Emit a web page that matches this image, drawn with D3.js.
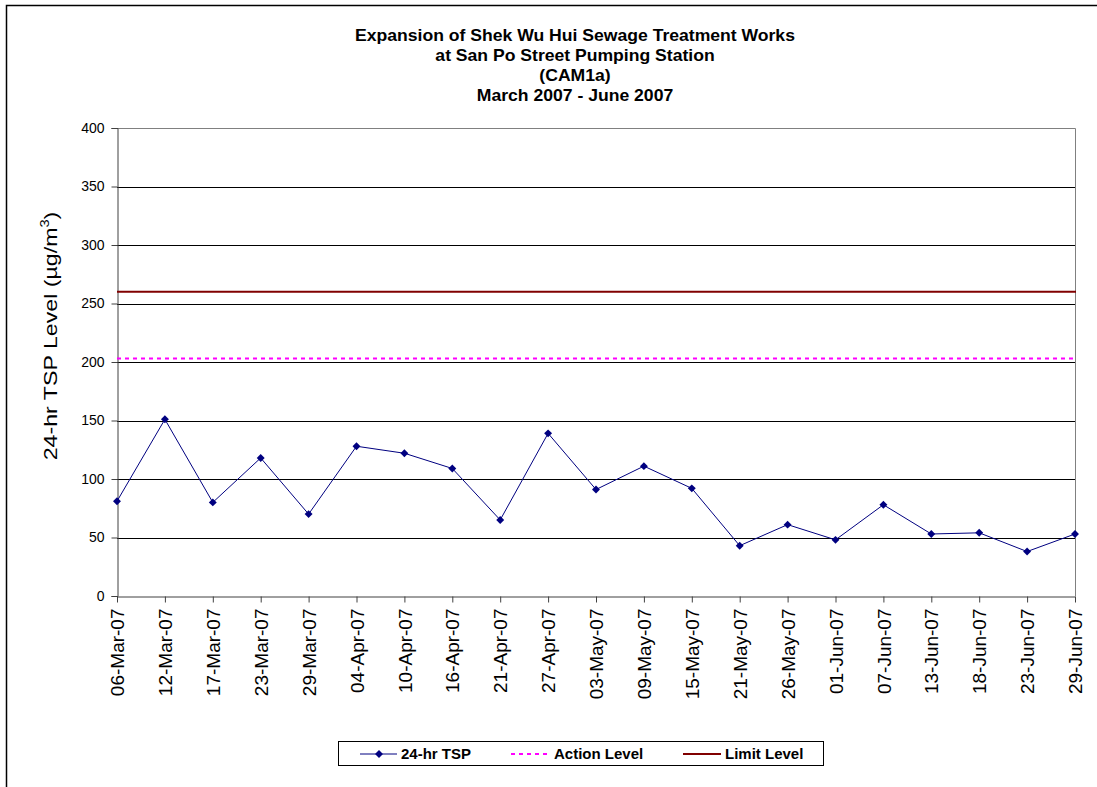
<!DOCTYPE html>
<html>
<head>
<meta charset="utf-8">
<script src="https://cdn.jsdelivr.net/npm/d3@7"></script>
<style>
  body { margin: 0; background: #fff; }
  text { font-family: Arial, "Liberation Sans", sans-serif; }
</style>
</head>
<body>
<div id="chart"></div>
<script>
const dates = ["06-Mar-07", "12-Mar-07", "17-Mar-07", "23-Mar-07", "29-Mar-07", "04-Apr-07", "10-Apr-07",
    "16-Apr-07", "21-Apr-07", "27-Apr-07", "03-May-07", "09-May-07", "15-May-07", "21-May-07",
    "26-May-07", "01-Jun-07", "07-Jun-07", "13-Jun-07", "18-Jun-07", "23-Jun-07", "29-Jun-07"];
const tsp = [81, 151, 80, 118, 70, 128, 122, 109, 65, 139, 91, 111, 92, 43, 61, 48, 78, 53, 54, 38, 53];
const actionLevel = 203;
const limitLevel = 260;
const yTicks = [0, 50, 100, 150, 200, 250, 300, 350, 400];
const titleLines = ["Expansion of Shek Wu Hui Sewage Treatment Works",
    "at San Po Street Pumping Station", "(CAM1a)", "March 2007 - June 2007"];

const width = 1097;
const height = 787;
const plotLeft = 117, plotRight = 1075, plotTop = 128, plotBottom = 596;

const svg = d3.select('#chart').append('svg')
    .attr('width', width)
    .attr('height', height);

// outer frame (only top and left are visible)
svg.append('path')
    .attr('d', `M6.5,${height + 2} L6.5,5.5 L${width + 2},5.5`)
    .attr('fill', 'none')
    .attr('stroke', '#000')
    .attr('stroke-width', 1.5);

const x = d3.scalePoint().domain(dates).range([plotLeft, plotRight]);
const y = d3.scaleLinear().domain([0, 400]).range([plotBottom, plotTop]);

// title
svg.append('g').selectAll('text')
    .data(titleLines)
    .enter().append('text')
    .attr('transform', (_, i) => `translate(575,${41 + i * 20}) scale(1.1,1)`)
    .attr('text-anchor', 'middle')
    .attr('font-size', 16)
    .attr('font-weight', 'bold')
    .text(d => d);

// gridlines
svg.append('g').selectAll('line')
    .data(yTicks.filter(d => d > 0 && d < 400))
    .enter().append('line')
    .attr('x1', plotLeft).attr('x2', plotRight)
    .attr('y1', d => Math.round(y(d)) + 0.5).attr('y2', d => Math.round(y(d)) + 0.5)
    .attr('stroke', '#000')
    .attr('stroke-width', 1);

// plot border top/right
svg.append('path')
    .attr('d', `M${plotLeft},${plotTop + 0.5} L${plotRight + 0.5},${plotTop + 0.5} L${plotRight + 0.5},${plotBottom}`)
    .attr('fill', 'none')
    .attr('stroke', '#808080');

// y axis
const yAxis = svg.append('g')
    .attr('transform', `translate(${plotLeft + 0.5},0)`)
    .call(d3.axisLeft(y).tickValues(yTicks).tickSize(6).tickPadding(7));
yAxis.select('.domain').attr('stroke', '#404040');
yAxis.selectAll('.tick line').attr('stroke', '#404040');
yAxis.selectAll('text').attr('font-size', 14).attr('fill', '#000')
    .attr('font-family', 'Arial, "Liberation Sans", sans-serif');

// x axis
const xAxis = svg.append('g')
    .attr('transform', `translate(0,${plotBottom + 0.5})`)
    .call(d3.axisBottom(x).tickSize(6).tickPadding(5).tickSizeOuter(0));
xAxis.select('.domain').attr('stroke', '#404040');
xAxis.selectAll('.tick line').attr('stroke', '#404040');
xAxis.selectAll('text')
    .attr('font-size', 19).attr('fill', '#000')
    .attr('font-family', 'Arial, "Liberation Sans", sans-serif')
    .attr('transform', 'rotate(-90)')
    .attr('text-anchor', 'end')
    .attr('x', -12)
    .attr('y', 0)
    .attr('dy', '0.35em');

// y label
const yLabel = svg.append('text')
    .attr('transform', 'translate(57,336) rotate(-90) scale(1.22,1)')
    .attr('text-anchor', 'middle')
    .attr('font-size', 19);
yLabel.append('tspan').text('24-hr TSP Level  (\u00b5g/m');
yLabel.append('tspan').attr('font-size', 12).attr('dy', -8).text('3');
yLabel.append('tspan').attr('dy', 8).text(')');

// limit & action levels
svg.append('line')
    .attr('x1', plotLeft).attr('x2', plotRight + 1)
    .attr('y1', y(limitLevel)).attr('y2', y(limitLevel))
    .attr('stroke', '#800000').attr('stroke-width', 2);
svg.append('line')
    .attr('x1', plotLeft).attr('x2', plotRight + 1)
    .attr('y1', y(actionLevel)).attr('y2', y(actionLevel))
    .attr('stroke', '#ff00ff').attr('stroke-width', 2)
    .attr('stroke-dasharray', '4,4');

// TSP series
const line = d3.line().x((d, i) => x(dates[i])).y(d => y(d));
svg.append('path')
    .datum(tsp)
    .attr('d', line)
    .attr('fill', 'none')
    .attr('stroke', '#000080')
    .attr('stroke-width', 1);

const diamond = d3.symbol().type(d3.symbolDiamond2).size(40);
svg.append('g').selectAll('path')
    .data(tsp)
    .enter().append('path')
    .attr('d', diamond)
    .attr('transform', (d, i) => `translate(${x(dates[i])},${y(d)})`)
    .attr('fill', '#000080');

// legend
const legend = svg.append('g');
legend.append('rect')
    .attr('x', 338.5).attr('y', 741.5)
    .attr('width', 485).attr('height', 24)
    .attr('fill', '#fff').attr('stroke', '#000');

legend.append('line')
    .attr('x1', 360).attr('x2', 397).attr('y1', 754).attr('y2', 754)
    .attr('stroke', '#000080').attr('stroke-width', 1);
legend.append('path')
    .attr('d', diamond)
    .attr('transform', 'translate(379,754)')
    .attr('fill', '#000080');
legend.append('line')
    .attr('x1', 511).attr('x2', 550).attr('y1', 754).attr('y2', 754)
    .attr('stroke', '#ff00ff').attr('stroke-width', 2)
    .attr('stroke-dasharray', '4,4');
legend.append('line')
    .attr('x1', 683).attr('x2', 721).attr('y1', 754).attr('y2', 754)
    .attr('stroke', '#800000').attr('stroke-width', 2);

const legendText = [["24-hr TSP", 401], ["Action Level", 554], ["Limit Level", 725]];
legend.selectAll('text.lab')
    .data(legendText)
    .enter().append('text')
    .attr('class', 'lab')
    .attr('x', d => d[1]).attr('y', 759)
    .attr('font-size', 15)
    .attr('font-weight', 'bold')
    .text(d => d[0]);
</script>
</body>
</html>
